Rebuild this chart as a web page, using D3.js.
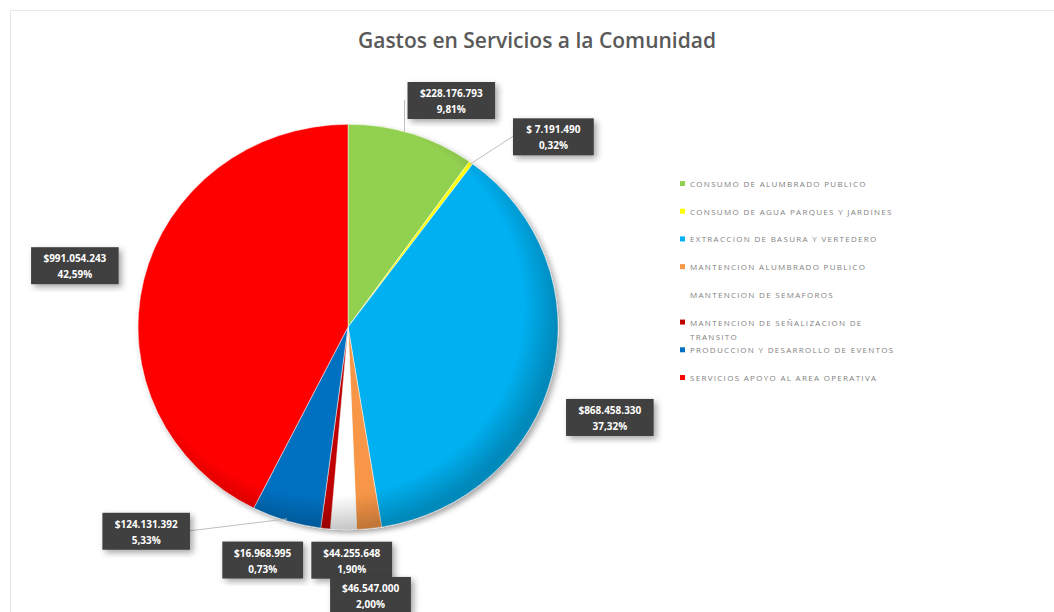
<!DOCTYPE html>
<html>
<head>
<meta charset="utf-8">
<script src="https://cdn.jsdelivr.net/npm/d3@7"></script>
<style>
  body { margin: 0; background: #fff; }
  svg { display: block; font-family: "Open Sans", "Liberation Sans", sans-serif; }
  .lbl text { fill: #fff; font-weight: bold; font-size: 10px; }
  .legend text { fill: #7f7f7f; font-size: 8px; letter-spacing: 1.3px; }
</style>
</head>
<body>
<svg id="chart" width="1054" height="612"></svg>
<script>
const categories = [
  "CONSUMO DE ALUMBRADO PUBLICO",
  "CONSUMO DE AGUA PARQUES Y JARDINES",
  "EXTRACCION DE BASURA Y VERTEDERO",
  "MANTENCION ALUMBRADO PUBLICO",
  "MANTENCION DE SEMAFOROS",
  "MANTENCION DE SEÑALIZACION DE TRANSITO",
  "PRODUCCION Y DESARROLLO DE EVENTOS",
  "SERVICIOS APOYO AL AREA OPERATIVA"
]
const amounts = [228176793, 7191490, 868458330, 44255648, 46547000, 16968995, 124131392, 991054243]
const amountLabels = ["$228.176.793", "$ 7.191.490", "$868.458.330", "$44.255.648", "$46.547.000", "$16.968.995", "$124.131.392", "$991.054.243"]
const percentLabels = ["9,81%", "0,32%", "37,32%", "1,90%", "2,00%", "0,73%", "5,33%", "42,59%"]
const colors = ["#92d050", "#ffff00", "#00b0f0", "#f79646", "#ffffff", "#c00000", "#0070c0", "#ff0000"]

// label box nudges from their default spot outside the pie (layout only)
const labelNudge = [[26, 16], [56, 16], [14, 30], [-22, -21], [28, 13], [-58, -21], [-127, -40], [-25, -3]]

const svg = d3.select("#chart")
const cx = 348, cy = 327, radius = 210, squash = 0.965

// chart frame
svg.append("rect")
    .attr("x", 10.5).attr("y", 10.5)
    .attr("width", 1050).attr("height", 610)
    .attr("fill", "none").attr("stroke", "#e6e6e6")

svg.append("text")
    .attr("x", 537).attr("y", 48)
    .attr("text-anchor", "middle")
    .attr("font-size", 21)
    .attr("font-weight", 600)
    .attr("fill", "#595959")
    .text("Gastos en Servicios a la Comunidad")

var defs = svg.append("defs")
var shadow = defs.append("filter").attr("id", "shadow")
    .attr("x", "-10%").attr("y", "-10%").attr("width", "130%").attr("height", "130%")
shadow.append("feDropShadow")
    .attr("dx", 3).attr("dy", 3).attr("stdDeviation", 3)
    .attr("flood-color", "#000").attr("flood-opacity", 0.35)

var bevel = defs.append("radialGradient").attr("id", "bevel")
    .attr("cx", "45%").attr("cy", "45%").attr("r", "55%")
bevel.append("stop").attr("offset", "85%").attr("stop-color", "#000").attr("stop-opacity", 0)
bevel.append("stop").attr("offset", "100%").attr("stop-color", "#000").attr("stop-opacity", 0.22)

const pie = d3.pie().sort(null).value(d => d)
const arcs = pie(amounts)
const arc = d3.arc().innerRadius(0).outerRadius(radius)
const outer = d3.arc().innerRadius(radius + 45).outerRadius(radius + 45)
const rim = d3.arc().innerRadius(radius - 2).outerRadius(radius - 2)

var g = svg.append("g").attr("transform", "translate(" + cx + "," + cy + ")")
var pieG = g.append("g").attr("transform", "scale(1," + squash + ")")

pieG.append("g").attr("filter", "url(#shadow)")
    .selectAll("path")
    .data(arcs)
    .enter().append("path")
    .attr("d", arc)
    .attr("fill", (d, i) => colors[i])
    .attr("stroke", "#ffffff")
    .attr("stroke-width", 0.5)

pieG.append("circle")
    .attr("r", radius)
    .attr("fill", "url(#bevel)")
    .attr("pointer-events", "none")

// label positions
var labelPos = arcs.map(function (d, i) {
    var c = outer.centroid(d)
    return [c[0] + labelNudge[i][0], c[1] + labelNudge[i][1]]
})
var halfW = amountLabels.map(s => s.length * 3.4 + 3)

// point on the pie rim straight below a given x
function rimBelow(x) {
    return [x, -Math.sqrt(radius * radius - x * x) * squash]
}

// leader lines: green drops from the box's left side, yellow meets box left, blue meets box right
var leaderEnds = [
    [rimBelow(labelPos[0][0] - halfW[0] - 3), [labelPos[0][0] - halfW[0] - 3, labelPos[0][1]]],
    [[rim.centroid(arcs[1])[0], rim.centroid(arcs[1])[1] * squash], [labelPos[1][0] - halfW[1], labelPos[1][1]]],
    [[rim.centroid(arcs[6])[0], rim.centroid(arcs[6])[1] * squash], [labelPos[6][0] + halfW[6], labelPos[6][1]]]
]
g.selectAll("line.leader")
    .data(leaderEnds)
    .enter().append("line")
    .attr("class", "leader")
    .attr("x1", d => d[0][0]).attr("y1", d => d[0][1])
    .attr("x2", d => d[1][0]).attr("y2", d => d[1][1])
    .attr("stroke", "#bfbfbf")
    .attr("stroke-width", 1)

var lbl = g.selectAll("g.lbl")
    .data(arcs)
    .enter().append("g")
    .attr("class", "lbl")
    .attr("transform", (d, i) => "translate(" + labelPos[i][0] + "," + labelPos[i][1] + ")")

lbl.append("rect")
    .attr("x", (d, i) => -halfW[i])
    .attr("y", -18)
    .attr("width", (d, i) => 2 * halfW[i])
    .attr("height", 37)
    .attr("fill", "#404040")
    .attr("filter", "url(#shadow)")

lbl.append("text")
    .attr("text-anchor", "middle")
    .attr("y", -3)
    .text((d, i) => amountLabels[i])

lbl.append("text")
    .attr("text-anchor", "middle")
    .attr("y", 13)
    .text((d, i) => percentLabels[i])

// legend
var legendY = d3.scalePoint().domain(d3.range(categories.length)).range([184, 378])

var legend = svg.append("g").attr("class", "legend")
var item = legend.selectAll("g")
    .data(categories)
    .enter().append("g")
    .attr("transform", (d, i) => "translate(683," + legendY(i) + ")")

item.append("rect")
    .attr("x", -3).attr("y", -3)
    .attr("width", 5).attr("height", 5)
    .attr("fill", (d, i) => colors[i])

item.append("text")
    .attr("x", 7)
    .attr("y", 3)
    .each(function (d) {
        var t = d3.select(this)
        if (d.length > 34) {
            var words = d.split(" ")
            t.append("tspan").attr("x", 7).text(words.slice(0, -1).join(" "))
            t.append("tspan").attr("x", 7).attr("dy", 14).text(words[words.length - 1])
        } else {
            t.text(d)
        }
    })
</script>
</body>
</html>
